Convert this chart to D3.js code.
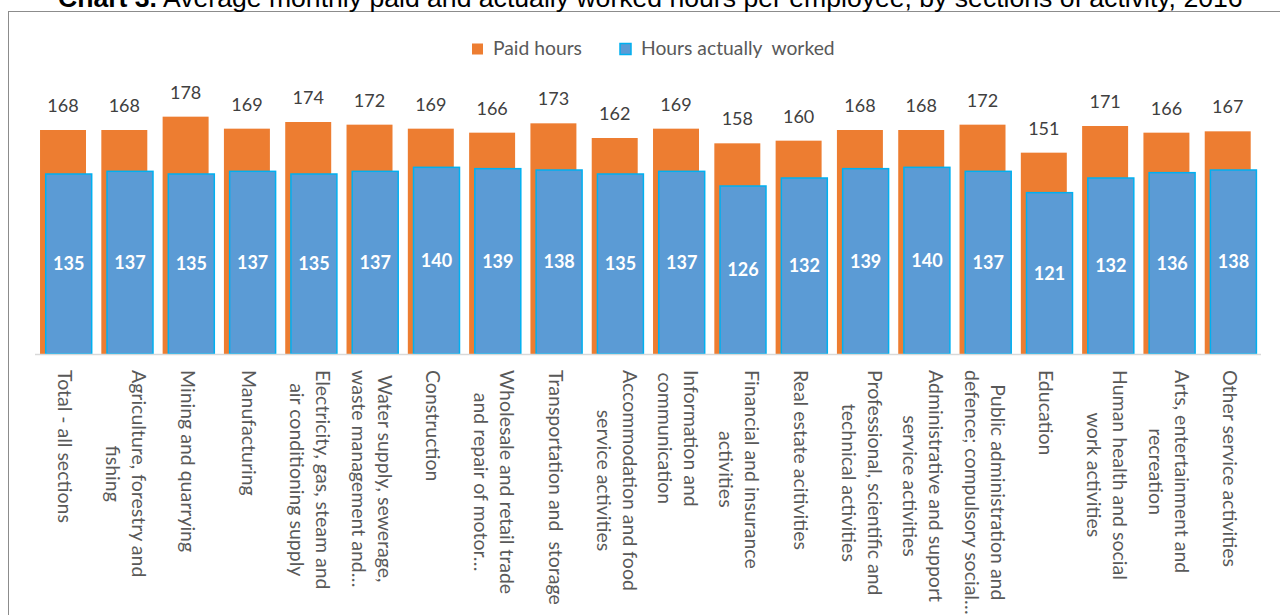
<!DOCTYPE html>
<html>
<head>
<meta charset="utf-8">
<script src="https://cdn.jsdelivr.net/npm/d3@7"></script>
<style>
  body { margin: 0; background: #fff; }
  svg { display: block; }
</style>
</head>
<body>
<div id="chart"></div>
<script>
// chart data
var categories = [
  "Total - all sections",
  "Agriculture, forestry and|fishing",
  "Mining and quarrying",
  "Manufacturing",
  "Electricity, gas, steam and|air conditioning supply",
  "Water supply, sewerage,|waste management and…",
  "Construction",
  "Wholesale and retail trade|and repair of motor…",
  "Transportation and  storage",
  "Accommodation and food|service activities",
  "Information and|communication",
  "Financial and insurance|activities",
  "Real estate acitivities",
  "Professional, scientific and|technical activities",
  "Administrative and support|service activities",
  "Public administration and|defence; compulsory social…",
  "Education",
  "Human health and social|work activities",
  "Arts, entertainment and|recreation",
  "Other service activities"
];
var paidHours = [168, 168, 178, 169, 174, 172, 169, 166, 173, 162, 169, 158, 160, 168, 168, 172, 151, 171, 166, 167];
var workedHours = [135, 137, 135, 137, 135, 137, 140, 139, 138, 135, 137, 126, 132, 139, 140, 137, 121, 132, 136, 138];
var seriesNames = ["Paid hours", "Hours actually  worked"];

var width = 1280;
var height = 615;

var orange = "#ED7D31";
var blue = "#5B9BD5";
var blueEdge = "#00B0F0";

var svg = d3.select("#chart").append("svg")
  .attr("width", width)
  .attr("height", height);

//frame
svg.append("rect")
  .attr("x", 8.5).attr("y", 11.5)
  .attr("width", 1300).attr("height", 700)
  .attr("fill", "#fff")
  .attr("stroke", "#8c8c8c")
  .attr("stroke-width", 1);

//title (cut at the top edge, as in the source)
var title = svg.append("text")
  .attr("x", 58).attr("y", 7)
  .style("font-family", "'Liberation Sans', Arial, sans-serif")
  .style("font-size", "26.6px")
  .attr("fill", "#000");
title.append("tspan").style("font-weight", "bold").text("Chart 3.");
title.append("tspan").text(" Average monthly paid and actually worked hours per employee, by sections of activity, 2016");

var x = d3.scaleBand()
  .domain(d3.range(categories.length))
  .range([35, 1261]);

var y = d3.scaleLinear()
  .domain([0, 200])
  .range([354, 354 - 200 * 4 / 3]);

var bw = x.bandwidth();
var barW = bw * 0.75;
var g = svg.append("g");

//paid hours bars
g.selectAll("rect.paid")
  .data(paidHours)
  .enter()
  .append("rect")
  .attr("class", "paid")
  .attr("x", function(d, i) { return x(i) + bw * 0.082; })
  .attr("y", function(d) { return y(d); })
  .attr("width", barW)
  .attr("height", function(d) { return y(0) - y(d); })
  .attr("fill", orange);

//worked hours bars
g.selectAll("rect.worked")
  .data(workedHours)
  .enter()
  .append("rect")
  .attr("class", "worked")
  .attr("x", function(d, i) { return x(i) + bw * 0.175; })
  .attr("y", function(d) { return y(d); })
  .attr("width", barW)
  .attr("height", function(d) { return y(0) - y(d); })
  .attr("fill", blue)
  .attr("stroke", blueEdge)
  .attr("stroke-width", 1.5);

//baseline
svg.append("line")
  .attr("x1", 35).attr("x2", 1261)
  .attr("y1", y(0) + 0.5).attr("y2", y(0) + 0.5)
  .attr("stroke", "#d9d9d9")
  .attr("stroke-width", 1.5);

//paid labels above bars
g.selectAll("text.paidLabel")
  .data(paidHours)
  .enter()
  .append("text")
  .attr("class", "paidLabel")
  .attr("x", function(d, i) { return x(i) + bw * 0.082 + barW / 2; })
  .attr("y", function(d) { return y(d) - 18; })
  .attr("text-anchor", "middle")
  .style("font-family", "Lato, sans-serif")
  .style("font-size", "18px")
  .attr("fill", "#404040")
  .text(function(d) { return d; });

//worked labels inside bars
g.selectAll("text.workedLabel")
  .data(workedHours)
  .enter()
  .append("text")
  .attr("class", "workedLabel")
  .attr("x", function(d, i) { return x(i) + bw * 0.175 + barW / 2; })
  .attr("y", function(d) { return (y(d) + y(0)) / 2; })
  .attr("dy", "0.35em")
  .attr("text-anchor", "middle")
  .style("font-family", "Lato, sans-serif")
  .style("font-size", "18px")
  .style("font-weight", "bold")
  .attr("fill", "#fff")
  .text(function(d) { return d; });

//category labels, rotated
var lineH = 26;
var labelTop = 370;
categories.forEach(function(c, i) {
  var lines = c.split("|");
  var cx = x(i) + bw / 2;
  var lab = svg.append("g");
  var texts = lines.map(function(l, j) {
    return lab.append("text")
      .attr("text-anchor", "middle")
      .attr("dominant-baseline", "central")
      .style("font-family", "Lato, sans-serif")
      .style("font-size", "19.5px")
      .style("white-space", "pre")
      .attr("fill", "#595959")
      .text(l);
  });
  var maxW = d3.max(texts, function(t) { return t.node().getComputedTextLength(); });
  texts.forEach(function(t, j) {
    var off = (j - (lines.length - 1) / 2) * lineH;
    t.attr("transform", "translate(" + (cx - off) + "," + (labelTop + maxW / 2) + ") rotate(90)");
  });
});

//legend
var legend = svg.append("g");
var legendItems = [
  { name: seriesNames[0], x: 472, fill: orange, stroke: "none" },
  { name: seriesNames[1], x: 620, fill: blue, stroke: blueEdge }
];
legendItems.forEach(function(it) {
  legend.append("rect")
    .attr("x", it.x).attr("y", 43.5)
    .attr("width", 11).attr("height", 11)
    .attr("fill", it.fill)
    .attr("stroke", it.stroke)
    .attr("stroke-width", 1.5);
  legend.append("text")
    .attr("x", it.x + 21).attr("y", 55)
    .style("font-family", "Lato, sans-serif")
    .style("font-size", "19.3px")
    .style("white-space", "pre")
    .attr("fill", "#595959")
    .text(it.name);
});
</script>
</body>
</html>
